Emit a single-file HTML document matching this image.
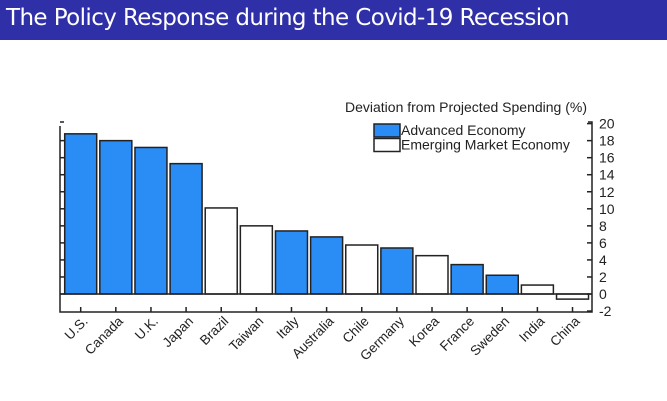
<!DOCTYPE html>
<html><head><meta charset="utf-8"><style>
html,body{margin:0;padding:0;background:#fff;}
body{width:667px;height:401px;overflow:hidden;position:relative;font-family:"Liberation Sans",sans-serif;}
#title-bar{position:absolute;left:0;top:0;width:667px;height:40px;background:#2f2fa8;}
#title-bar span{position:absolute;left:6px;top:5px;color:#fff;font-size:23px;font-family:"DejaVu Sans","Liberation Sans",sans-serif;letter-spacing:-0.6px;}
svg{position:absolute;left:0;top:0;}
</style></head><body>
<div id="title-bar"><span>The Policy Response during the Covid-19 Recession</span></div>
<svg id="chart" width="667" height="401"></svg>
<script>
const categories=["U.S.","Canada","U.K.","Japan","Brazil","Taiwan","Italy","Australia","Chile","Germany","Korea","France","Sweden","India","China"];
const values=[18.8,18.0,17.2,15.3,10.1,8.0,7.4,6.7,5.75,5.4,4.5,3.45,2.2,1.05,-0.6];
const groups=["adv","adv","adv","adv","em","em","adv","adv","em","adv","em","adv","adv","em","em"];
const yTicks=[-2,0,2,4,6,8,10,12,14,16,18,20];
const NS="http://www.w3.org/2000/svg";
const svg=document.getElementById('chart');
const L=60,R=592,T=122,B=312;
function y(v){return 294-(v)*8.52;}
function x(i){return 80.7+i*35.13;}
function mk(t,a,p){const e=document.createElementNS(NS,t);for(const k in a)e.setAttribute(k,a[k]);(p||svg).appendChild(e);return e;}
let fr=mk('path',{d:`M${L} ${T+4} L${L} ${B} L${R} ${B} L${R} ${T} L${R-4} ${T} M${L} ${T} L${L+4} ${T}`,fill:'none',stroke:'#222','stroke-width':1.5});


categories.forEach((c,i)=>{
  const v=values[i];const y0=y(0),y1=y(v);
  const r=mk('rect',{x:x(i)-16,y:Math.min(y0,y1),width:32,height:Math.abs(y1-y0),fill:groups[i]==='adv'?'#2a8cf5':'#fff',stroke:'#222','stroke-width':1.5});
  
  
  mk('line',{x1:x(i),x2:x(i),y1:B,y2:B-5,stroke:'#222','stroke-width':1.5});
  const t=mk('text',{x:x(i)+8,y:322,'font-size':13.5,fill:'#222','text-anchor':'end',transform:`rotate(-45 ${x(i)+8} 322)`});
  t.textContent=c;
  
  
});
let zl=mk('line',{x1:L,x2:R,y1:y(0),y2:y(0),stroke:'#222','stroke-width':1.5});


yTicks.forEach(v=>{
  mk('line',{x1:R,x2:R-5,y1:y(v),y2:y(v),stroke:'#222','stroke-width':1.5});
  if(v>-2&&v<20)mk('line',{x1:L,x2:L+5,y1:y(v),y2:y(v),stroke:'#222','stroke-width':1.5});
  const t=mk('text',{x:599,y:y(v)+5,'font-size':14,fill:'#222'});
  t.textContent=v;
  
  
});
let yt=mk('text',{x:587,y:112,'font-size':14,fill:'#222','text-anchor':'end'});
yt.textContent='Deviation from Projected Spending (%)';


const legend=[["Advanced Economy","#2a8cf5"],["Emerging Market Economy","#fff"]];
legend.forEach((l,i)=>{
  const g=mk('g',{});
  
  
  mk('rect',{x:374,y:124+i*14.5,width:26,height:13,fill:l[1],stroke:'#222','stroke-width':1.5},g);
  const t=mk('text',{x:401,y:135+i*14.5,'font-size':14,fill:'#222'},g);t.textContent=l[0];
});
</script>
</body></html>
